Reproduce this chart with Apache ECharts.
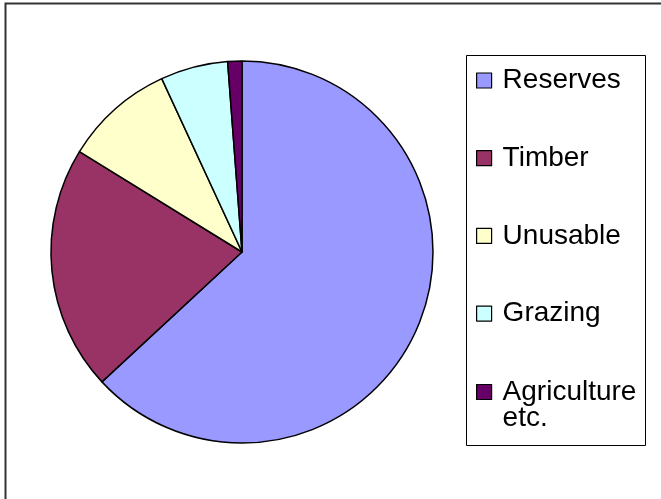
<!DOCTYPE html>
<html>
<head>
<meta charset="utf-8">
<script src="https://cdn.jsdelivr.net/npm/echarts@6/dist/echarts.min.js"></script>
<style>html,body{margin:0;padding:0;background:#fff;}#c{width:661px;height:499px;}</style>
</head>
<body>
<div id="c"></div>
<script>
var categories = ['Reserves', 'Timber', 'Unusable', 'Grazing', 'Agriculture etc.'];
var values = [63.1, 20.7, 9.3, 5.7, 1.2];
var colors = ['#9999FF', '#993366', '#FFFFCC', '#CCFFFF', '#660066'];

var chart = echarts.init(document.getElementById('c'), null, {renderer: 'canvas'});
var font = '"Liberation Sans", Arial, sans-serif';
var legendBase = {
  orient: 'vertical',
  left: 476,
  padding: 0,
  itemGap: 49.7,
  itemWidth: 15,
  itemHeight: 15,
  icon: 'rect',
  selectedMode: false,
  itemStyle: {borderColor: '#000000', borderWidth: 1.2},
  textStyle: {fontFamily: font, fontSize: 28, lineHeight: 26, color: '#000000', padding: [0, 0, 0, 6]}
};
var legend1 = echarts.util.extend({}, legendBase);
legend1.top = 66.5;
legend1.data = categories.slice(0, 4);
var legend2 = echarts.util.extend({}, legendBase);
legend2.top = 352;
legend2.data = categories.slice(4);
legend2.formatter = function (name) { return '\n' + name.replace(' etc.', '\netc.'); };

chart.setOption({
  animation: false,
  backgroundColor: '#ffffff',
  graphic: [
    {type: 'rect', silent: true, z: -1, shape: {x: 5.5, y: 3.5, width: 700, height: 600},
     style: {fill: 'none', stroke: '#333333', lineWidth: 2}},
    {type: 'rect', silent: true, z: -1, shape: {x: 466.5, y: 55.5, width: 179, height: 390},
     style: {fill: '#ffffff', stroke: '#000000', lineWidth: 1}}
  ],
  legend: [legend1, legend2],
  series: [{
    type: 'pie',
    center: [242, 252],
    radius: 191,
    startAngle: 90,
    clockwise: true,
    avoidLabelOverlap: false,
    selectedMode: false,
    label: {show: false},
    labelLine: {show: false},
    emphasis: {disabled: true},
    itemStyle: {borderColor: '#000000', borderWidth: 1.5},
    data: categories.map(function (n, i) {
      return {name: n, value: values[i], itemStyle: {color: colors[i]}};
    })
  }]
});
</script>
</body>
</html>
